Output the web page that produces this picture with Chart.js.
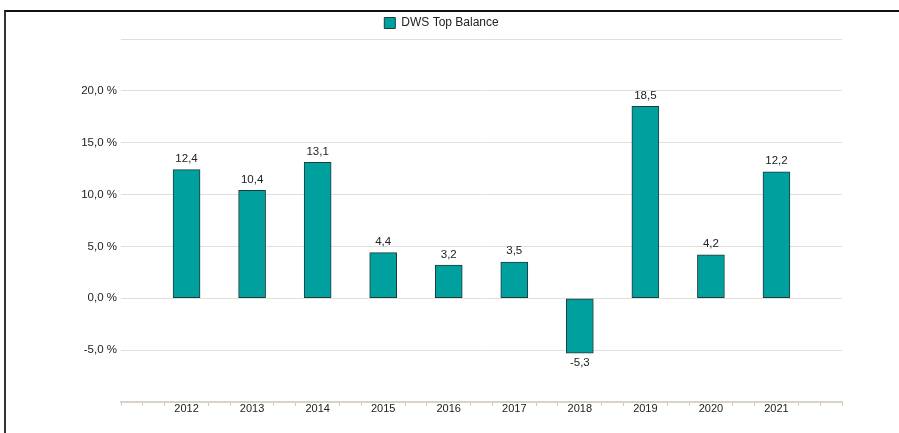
<!DOCTYPE html>
<html>
<head>
<meta charset="utf-8">
<script src="https://cdn.jsdelivr.net/npm/chart.js@4.4.1/dist/chart.umd.min.js"></script>
<style>
  body { margin: 0; background: #fff; }
  #wrap { position: relative; width: 899px; height: 433px; overflow: hidden; }
  #frame { position: absolute; left: 4px; top: 10px; right: -10px; bottom: -10px;
           border-top: 2px solid #111; border-left: 2px solid #333; }
  canvas { position: absolute; left: 0; top: 0; }
</style>
</head>
<body>
<div id="wrap">
  <div id="frame"></div>
  <canvas id="chart" width="899" height="433"></canvas>
</div>
<script>
// Chart data
const years = ['2012', '2013', '2014', '2015', '2016', '2017', '2018', '2019', '2020', '2021'];
const returns = [12.4, 10.4, 13.1, 4.4, 3.2, 3.5, -5.3, 18.5, 4.2, 12.2];
const seriesName = 'DWS Top Balance';

const fmt = (v) => v.toFixed(1).replace('.', ',');

// Value labels above / below each bar
const valueLabels = {
  id: 'valueLabels',
  afterDatasetsDraw(chart) {
    const ctx = chart.ctx;
    const meta = chart.getDatasetMeta(0);
    ctx.save();
    ctx.font = '11.5px "Liberation Sans", Arial, sans-serif';
    ctx.fillStyle = '#222';
    ctx.textAlign = 'center';
    meta.data.forEach((bar, i) => {
      const v = returns[i];
      if (v >= 0) {
        ctx.textBaseline = 'bottom';
        ctx.fillText(fmt(v), bar.x, bar.y - 5);
      } else {
        ctx.textBaseline = 'top';
        ctx.fillText(fmt(v), bar.x, bar.y + 4);
      }
    });
    ctx.restore();
  }
};

// Legend sits a little right of the default centre
const legendShift = {
  id: 'legendShift',
  afterLayout(chart) {
    chart.legend.left = 41;
  }
};

const ctx = document.getElementById('chart').getContext('2d');
new Chart(ctx, {
  type: 'bar',
  data: {
    datasets: [{
      label: seriesName,
      data: returns.map((v, i) => ({ x: i + 1, y: v })),
      backgroundColor: '#00a09e',
      borderColor: '#1f3b3a',
      borderWidth: 1,
      borderSkipped: false,
      barThickness: 27
    }]
  },
  options: {
    responsive: false,
    animation: false,
    layout: { padding: { top: 10, right: 57, bottom: 0, left: 0 } },
    plugins: {
      legend: {
        display: true,
        position: 'top',
        labels: {
          boxWidth: 11,
          boxHeight: 11,
          padding: 7,
          color: '#222',
          font: { family: '"Liberation Sans", Arial, sans-serif', size: 12 }
        }
      },
      tooltip: { enabled: false }
    },
    scales: {
      x: {
        type: 'linear',
        min: 0,
        max: 11,
        offset: false,
        afterBuildTicks: (scale) => {
          const t = [];
          for (let k = 0; k <= 33; k++) t.push({ value: k / 3 });
          scale.ticks = t;
        },
        afterFit: (scale) => { scale.height = 31; },
        border: { display: true, color: '#d8d3c6', width: 2 },
        grid: {
          drawOnChartArea: false,
          offset: false,
          tickLength: 4,
          tickWidth: 1,
          tickColor: (c) => {
            if (!c.tick) return '#cfcabd';
            const k = Math.round(c.tick.value * 3);
            return (k % 3 === 0 && k > 0 && k < 33) ? 'rgba(0,0,0,0)' : '#cfcabd';
          }
        },
        ticks: {
          autoSkip: false,
          maxRotation: 0,
          padding: -4,
          color: '#222',
          font: { family: '"Liberation Sans", Arial, sans-serif', size: 11 },
          callback: (value) => {
            const k = Math.round(value * 3);
            if (k % 3 !== 0) return '';
            const i = k / 3;
            return (i >= 1 && i <= years.length) ? years[i - 1] : '';
          }
        }
      },
      y: {
        min: -10,
        max: 25,
        afterFit: (scale) => { scale.width = 121; },
        border: { display: false },
        grid: { color: '#e2dfd7', lineWidth: 1, drawTicks: false },
        ticks: {
          stepSize: 5,
          padding: 4,
          color: '#222',
          font: { family: '"Liberation Sans", Arial, sans-serif', size: 11.5 },
          callback: (v) => (v === 25 || v === -10) ? '' : fmt(v) + ' %'
        }
      }
    }
  },
  plugins: [valueLabels, legendShift]
});
</script>
</body>
</html>
